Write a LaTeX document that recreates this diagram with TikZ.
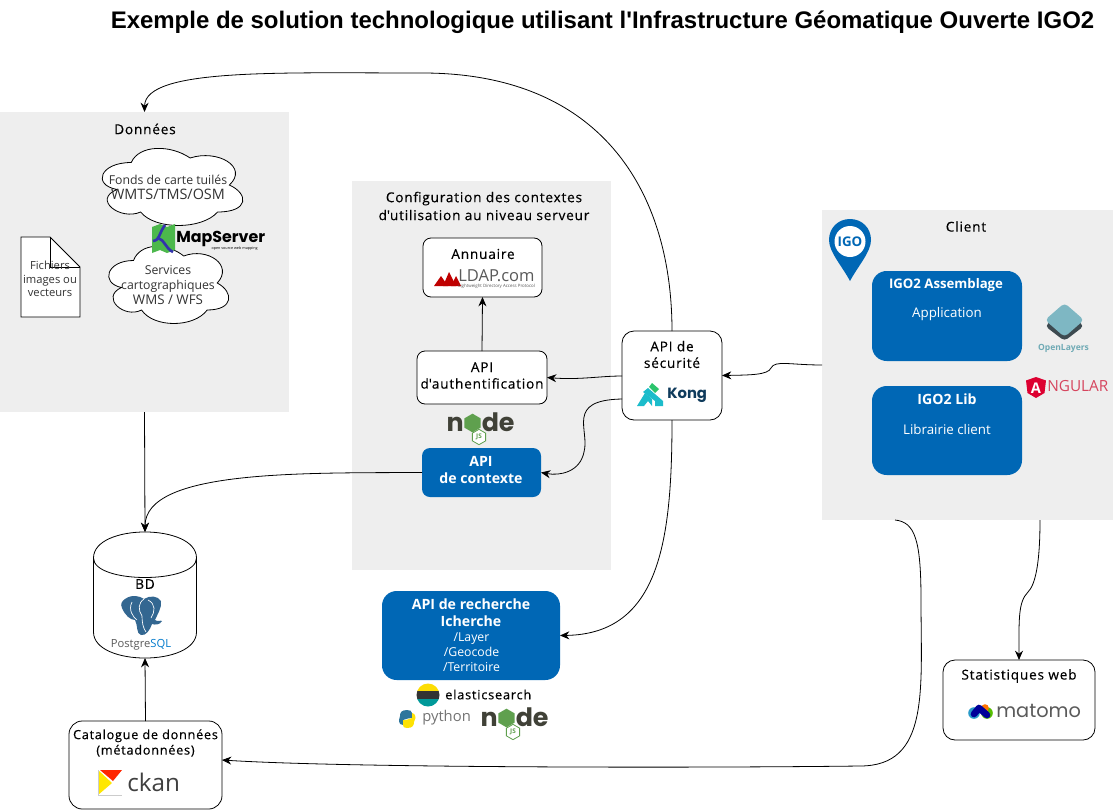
\documentclass[tikz,border=0pt]{standalone}
\usepackage{fontspec}
\setmainfont{Open Sans}
\newfontfamily\titlefont{Liberation Sans}
\newfontfamily\logofont{Poppins}
\newfontfamily\blackfont[LetterSpace=6,FakeBold=0.35]{Open Sans}
\usetikzlibrary{calc,arrows.meta,shapes.geometric}
\definecolor{panel}{HTML}{EEEEEE}
\definecolor{igoblue}{HTML}{0067B5}
\definecolor{nodedark}{HTML}{404137}
\definecolor{nodegreen}{HTML}{5FA04E}
\definecolor{logogray}{HTML}{5A5A5A}
\definecolor{kongcyan}{HTML}{1CBCCB}
\definecolor{konggreen}{HTML}{2BC46C}
\definecolor{kongnavy}{HTML}{0F3B5C}
\definecolor{pgblue}{HTML}{336791}
\definecolor{olteal}{HTML}{7EB7C3}
\definecolor{oldark}{HTML}{3D4A50}
\definecolor{oltext}{HTML}{6FAAB5}
\definecolor{angred}{HTML}{DD0031}
\definecolor{angtext}{HTML}{D6455E}
\newcommand{\fsz}[1]{\fontsize{#1}{#1}\linespread{1.22}\selectfont}
\newcommand{\fszl}[2]{\fontsize{#1}{#1}\linespread{#2}\selectfont}
\tikzset{
  sz/.style 2 args={minimum width=#1*0.75pt,minimum height=#2*0.75pt,inner sep=0pt,outer sep=0pt},
  panelbox/.style={fill=panel,draw=none},
  whitebox/.style={draw=black,fill=white,rounded corners=8pt,line width=0.6pt},
  bluebox/.style={fill=igoblue,draw=none,rounded corners=11pt},
  lbl/.style={align=center,inner sep=0pt,font=\blackfont\fsz{10.2},text=black},
  wlbl/.style={align=center,inner sep=0pt,font=\fsz{10.6}\bfseries,text=white},
  wsub/.style={align=center,inner sep=0pt,font=\fsz{10},text=white},
  thin lbl/.style={align=center,inner sep=0pt,font=\fsz{9.2},text=black!80},
  conn/.style={draw=black,line width=0.6pt,-{Stealth[length=7pt,width=6pt]}},
}
\newcommand{\cloudshape}[4]{%
  \begin{scope}[shift={(#1,#2)},x=#3*0.75pt,y=-#4*0.75pt]
  \draw[fill=white,line width=0.6pt] (.25,.25) .. controls (.05,.25) and (0,.5) .. (.16,.55)
   .. controls (0,.66) and (.18,.9) .. (.31,.8)
   .. controls (.4,1) and (.7,1) .. (.8,.8)
   .. controls (1,.8) and (1,.6) .. (.875,.5)
   .. controls (1,.3) and (.8,.1) .. (.625,.2)
   .. controls (.5,.05) and (.3,.05) .. (.25,.25) -- cycle;
  \end{scope}}
\newcommand{\nodelogo}[2]{%
  \begin{scope}[shift={(#1,#2)}]
  \node[anchor=base east,inner sep=0pt,text=nodedark,font=\logofont\fsz{19}\bfseries] at (16,0) {n};
  \node[anchor=base west,inner sep=0pt,text=nodedark,font=\logofont\fsz{19}\bfseries] at (33.5,0) {de};
  \node[regular polygon,regular polygon sides=6,shape border rotate=30,fill=nodegreen,minimum size=14pt,inner sep=0pt] at (24.5,-8) {};
  \node[regular polygon,regular polygon sides=6,shape border rotate=30,draw=nodegreen,fill=white,line width=0.6pt,minimum size=11.5pt,inner sep=0pt,text=nodegreen,font=\fsz{4.8}\bfseries] at (31,6) {JS};
  \end{scope}}
\begin{document}
\begin{tikzpicture}[x=0.75pt,y=-0.75pt]
\useasboundingbox (0,0) rectangle (1113,810);
% panels
\node[panelbox,sz={289}{300}] (data) at (144.5,262) {};
\node[panelbox,sz={259}{389}] (config) at (481.5,375.5) {};
\node[panelbox,sz={291}{310}] (client) at (967.5,365) {};
% title
\node[inner sep=0pt,font=\titlefont\fsz{17.98}\bfseries] (title) at (602.5,22) {Exemple de solution technologique utilisant l'Infrastructure Géomatique Ouverte IGO2};
% boxes
\node[whitebox,rounded corners=6pt,sz={119}{59}] (annuaire) at (482.5,267.5) {};
\node[whitebox,rounded corners=6pt,sz={130}{53}] (auth) at (482,377.5) {};
\node[bluebox,rounded corners=6pt,sz={119}{49}] (contexte) at (481.5,472.5) {};
\node[whitebox,rounded corners=9pt,sz={100}{89}] (kong) at (672,375.5) {};
\node[bluebox,sz={150}{90}] (assemblage) at (947,316) {};
\node[bluebox,sz={150}{89}] (lib) at (947,430.5) {};
\node[bluebox,sz={178}{89}] (recherche) at (471,635.5) {};
\node[whitebox,rounded corners=9pt,sz={152}{80}] (stats) at (1019,700) {};
\node[whitebox,rounded corners=10pt,sz={153}{88}] (catalogue) at (145.5,765) {};
% database
\node[sz={103}{126},draw=none] (bd) at (145,595) {};
\draw[fill=white,line width=0.6pt] (93.5,558) .. controls (93.5,523.3) and (196.5,523.3) .. (196.5,558) -- (196.5,632) .. controls (196.5,666.7) and (93.5,666.7) .. (93.5,632) -- cycle;
\draw[line width=0.6pt] (93.5,558) .. controls (93.5,584) and (196.5,584) .. (196.5,558);
% clouds
\cloudshape{92}{140}{157}{90}
\cloudshape{100}{238}{134}{90}
% document
\draw[fill=white,line width=0.6pt] (21,237) -- (50,237) -- (80,267) -- (80,317) -- (21,317) -- cycle;
\draw[line width=0.6pt] (50,237) -- (50,267) -- (80,267);
% labels
\node[lbl] (ldonnees) at (145,129) {Données};
\node[thin lbl] (lfonds) at (168,187) {Fonds de carte tuilés\\{\fsz{10.8}WMTS/TMS/OSM}};
\node[thin lbl] (lservices) at (168,285.5) {Services\\cartographiques\\{\fsz{10}WMS / WFS}};
\node[thin lbl,font=\fsz{8.4}] (lfichiers) at (50,279) {Fichiers\\images ou\\vecteurs};
\node[lbl,font=\blackfont\fszl{10.2}{1.32}] (lconfig) at (484,206) {Configuration des contextes\\d\textquotesingle utilisation au niveau serveur};
\node[lbl] (lannuaire) at (483,254) {Annuaire};
\node[lbl] (lauth) at (482,375.5) {API\\d\textquotesingle authentification};
\node[wlbl] (lcontexte) at (481,470) {API\\de contexte};
\node[lbl] (lkong) at (672,354.5) {API de\\sécurité};
\node[lbl] (lclient) at (966,226.5) {Client};
\node[wlbl,font=\fsz{9.9}\bfseries] (lass) at (946,285) {IGO2 Assemblage};
\node[wsub] (lapp) at (947,314) {Application};
\node[wlbl] (llib) at (947,399) {IGO2 Lib};
\node[wsub] (llibc) at (947,429) {Librairie client};
\node[wlbl] (lrech) at (471,612.5) {API de recherche\\Icherche};
\node[wsub,font=\fsz{9.2}] (lpaths) at (471.5,652) {/Layer\\/Geocode\\/Territoire};
\node[lbl] (lstats) at (1019,676) {Statistiques web};
\node[lbl] (lbd) at (145,584) {BD};
\node[lbl,font=\blackfont\fsz{9.5}] (lcat) at (145.5,743) {Catalogue de données\\(métadonnées)};
% MapServer logo
\fill[green!60!black!70!white] (152,227) -- (160,224) -- (167,227) -- (175,224) -- (175,250) -- (167,253) -- (160,250) -- (152,253) -- cycle;
\draw[blue!60!black!80!white,line width=2pt] (165,225) .. controls (158,235) and (160,240) .. (153,241);
\draw[blue!60!black!80!white,line width=2pt] (158,238) .. controls (165,240) and (165,248) .. (173,252);
\node[anchor=west,inner sep=0pt,font=\logofont\fsz{11.9}\bfseries] (lmap) at (176,238.5) {MapServer};
\node[anchor=east,inner sep=0pt,font=\fsz{2.8}] (lmapsub) at (258,248.5) {open source web mapping};
% LDAP logo
\fill[red!75!black] (434,286) -- (441,276) -- (448,286) -- cycle;
\fill[red!75!black] (443,286) -- (449,272) -- (456,286) -- cycle;
\fill[red!75!black] (451,286) -- (456,276) -- (461,286) -- cycle;
\node[anchor=west,inner sep=0pt,text=logogray,font=\fsz{12.4}] (lldap) at (458,276) {LDAP.com};
\node[anchor=west,inner sep=0pt,text=logogray,font=\fsz{3.3}] (lldapsub) at (458,286.5) {Lightweight Directory Access Protocol};
% Kong logo
\fill[kongcyan] (637,406) -- (645,393) -- (652,399) -- (652,406) -- (648,401) -- (644,406) -- cycle;
\fill[kongcyan] (648,388) -- (663,401) -- (663,406) -- (655,406) -- (655,401) -- (643,392) -- cycle;
\fill[konggreen] (652,383) -- (659,389) -- (655,393) -- (649,387) -- cycle;
\node[anchor=west,inner sep=0pt,text=kongnavy,font=\logofont\fsz{11.1}\bfseries] (lkonglogo) at (667,395.5) {Kong};
% IGO pin
\fill[igoblue] (850,281) .. controls (842,266) and (829,252) .. (829,240) .. controls (829,228) and (838,219) .. (850,219) .. controls (862,219) and (871,228) .. (871,240) .. controls (871,252) and (858,266) .. (850,281) -- cycle;
\fill[white] (850,241.5) circle[radius=15.5];
\node[inner sep=0pt,text=igoblue,font=\fsz{10}\bfseries] (ligo) at (850,241.5) {IGO};
% OpenLayers logo
\fill[oldark,rounded corners=3pt] (1064.5,310) -- (1084,326) -- (1064.5,341) -- (1045,326) -- cycle;
\fill[olteal,rounded corners=3pt] (1064.5,303) -- (1084,320) -- (1064.5,337) -- (1045,320) -- cycle;
\node[inner sep=0pt,text=oltext,font=\fsz{6.4}\bfseries] (lol) at (1063.5,348) {OpenLayers};
% Angular logo
\fill[angred] (1036,377) -- (1046,380.5) -- (1044.5,393) -- (1036,398) -- (1027.5,393) -- (1026,380.5) -- cycle;
\node[inner sep=0pt,text=white,font=\fsz{11}\bfseries] (langa) at (1036,388) {A};
\node[anchor=west,inner sep=0pt,text=angtext,font=\fsz{11.5}] (langular) at (1047,386.5) {NGULAR};
% node logos
\nodelogo{448}{431}
\nodelogo{482}{726}
% elasticsearch logo
\begin{scope}
\clip (428,695) circle[radius=11.5];
\fill[yellow!80!orange] (416,683) rectangle (440,691);
\fill[black!80] (416,691) rectangle (440,699);
\fill[teal!80!cyan] (416,699) rectangle (440,707);
\end{scope}
\node[anchor=west,inner sep=0pt,font=\blackfont\fontsize{9.6}{9.6}\selectfont] (lelastic) at (445,694.5) {elasticsearch};
% python logo
\fill[pgblue!90!cyan] (407,710) .. controls (401,710) and (400,713) .. (400,716) -- (399,720) .. controls (399,724) and (401,725) .. (403,725) -- (403,720) -- (408,718.5) -- (412,718) -- (412,713) .. controls (412,711) and (410,710) .. (407,710) -- cycle;
\fill[yellow!85!orange] (407,728) .. controls (413,728) and (414,725) .. (414,722) -- (415.5,718) .. controls (415.5,714) and (413,713) .. (412,713) -- (412,718) -- (406,720) -- (403,720) -- (403,725) .. controls (403,727) and (404,728) .. (407,728) -- cycle;
\node[anchor=west,inner sep=0pt,text=logogray!85,font=\fsz{11.1}] (lpython) at (422,718) {python};
% PostgreSQL logo
\fill[pgblue] (125,599) .. controls (132,594) and (140,596) .. (144,599) .. controls (150,595) and (158,596) .. (161,601) .. controls (162,608) and (157,615) .. (155,620) .. controls (157,622) and (161,620) .. (162,621) .. controls (160,625) and (155,625) .. (152,624) .. controls (150,630) and (146,636) .. (141,635) .. controls (136,634) and (138,625) .. (135,620) .. controls (130,620) and (125,615) .. (122,608) .. controls (120,604) and (122,601) .. (125,599) -- cycle;
\draw[white,line width=0.5pt] (132,602) .. controls (128,610) and (133,617) .. (137,620);
\draw[white,line width=0.5pt] (144,599) .. controls (138,603) and (138,610) .. (142,616) .. controls (142,622) and (143,628) .. (146,632);
\draw[white,line width=0.5pt] (148,600) .. controls (156,604) and (155,612) .. (151,618);
\node[inner sep=0pt,font=\fsz{8.4}] (lpg) at (141,644.5) {\textcolor{logogray}{Postgre}\textcolor{blue!40!cyan!80!black}{SQL}};
% ckan logo
\fill[yellow!90!orange] (98,770) -- (112,783) -- (98,795) -- cycle;
\fill[red!70!orange] (100,770) -- (122,770) -- (113,781) -- cycle;
\draw[black!20,line width=0.4pt] (98,770) -- (98,795) -- (122,795);
\node[anchor=west,inner sep=0pt,text=black!75,font=\fsz{18.2}] (lckan) at (127,782.5) {ckan};
% matomo logo
\fill[cyan!60!teal] (974,713) circle[radius=5.8];
\fill[green!55!yellow!75!black] (987,713) circle[radius=5.8];
\fill[orange!90!red] (985,708) circle[radius=3.8];
\draw[blue!60!black,line width=5pt,line cap=round,line join=round] (974,714) -- (979,708) -- (987,715);
\node[anchor=west,inner sep=0pt,text=logogray,font=\logofont\fsz{14.5}] (lmatomo) at (996,711) {matomo};
% connectors
\draw[conn] (kong.north) .. controls (672,190) and (600,72) .. (420,73) .. controls (280,73) and (145,68) .. (data.north);
\draw[conn] (data.south) -- (bd.north);
\draw[conn] (contexte.west) .. controls (300,473) and (145,470) .. (bd.north);
\draw[conn] ($(kong.west)+(0,0.5)$) .. controls (600,376) and (580,380) .. (auth.east);
\draw[conn] ($(kong.west)+(0,23.5)$) .. controls (565,400) and (590,430) .. (584,452) .. controls (580,472) and (560,476) .. (contexte.east);
\draw[conn] (kong.south) .. controls (672,540) and (660,634) .. (recherche.east);
\draw[conn] (client.west) .. controls (790,365) and (775,360) .. (771,368) .. controls (768,375) and (750,375) .. (kong.east);
\draw[conn] (auth.north) -- (annuaire.south);
\draw[conn] (catalogue.north) -- (bd.south);
\draw[conn] ($(client.south)+(-72.5,0)$) .. controls (915,522) and (921,540) .. (921,600) .. controls (921,690) and (930,766) .. (860,766) .. controls (700,768) and (350,768) .. ($(catalogue.east)+(0,-5)$);
\draw[conn] ($(client.south)+(72.5,0)$) .. controls (1040,565) and (1035,585) .. (1028,592) .. controls (1018,602) and (1019,620) .. (stats.north);
\end{tikzpicture}
\end{document}
